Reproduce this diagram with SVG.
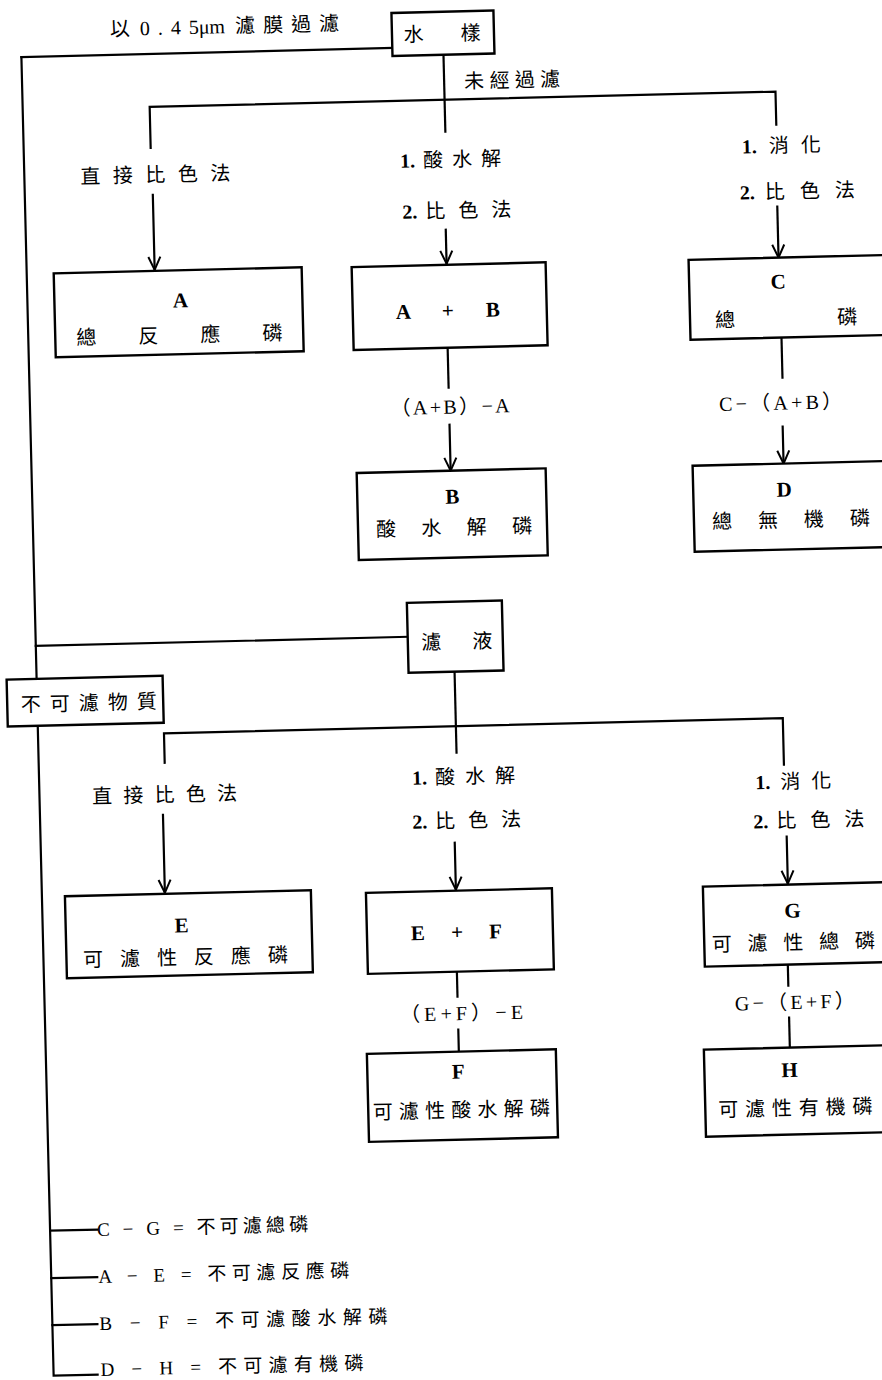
<svg xmlns="http://www.w3.org/2000/svg" width="882" height="1380" viewBox="0 0 882 1380">
<defs>
<style>
.ln{fill:none;stroke:#000;stroke-width:2.2;stroke-linecap:square}
.bx{fill:#fff;stroke:#000;stroke-width:2.4}
.t{font-family:"Liberation Serif","Noto Sans CJK TC",serif;font-size:20px;fill:#000;text-anchor:middle;dominant-baseline:central}
.s{text-anchor:start}
.b{font-weight:bold;font-size:21px}
.n{font-weight:bold}
.lg{font-size:19px}
</style>
<marker id="ah" viewBox="-14 -8 16 16" refX="0" refY="0" markerWidth="16" markerHeight="16" markerUnits="userSpaceOnUse" orient="auto">
<path d="M-13,-6 L0,0 L-13,6" fill="none" stroke="#000" stroke-width="2"/>
</marker>
</defs>
<rect width="882" height="1380" fill="#fff"/>
<g id="diagram" transform="rotate(-1.4 441 690)">
<g id="connectors">
<path class="ln" d="M37,47 H408"/>
<path class="ln" d="M37,47 V1366 H81"/>
<path class="ln" d="M459,55 V132"/>
<path class="ln" d="M164,141 V100 H790 V133"/>
<path class="ln" d="M165,188 V263" marker-end="url(#ah)"/>
<path class="ln" d="M457,230 V264" marker-end="url(#ah)"/>
<path class="ln" d="M789,215 V266" marker-end="url(#ah)"/>
<path class="ln" d="M456,348 V388"/>
<path class="ln" d="M456,425 V471" marker-end="url(#ah)"/>
<path class="ln" d="M790,346 V386"/>
<path class="ln" d="M789,435 V472" marker-end="url(#ah)"/>
<path class="ln" d="M37,636 H409"/>
<path class="ln" d="M455,672 V753"/>
<path class="ln" d="M163,756 V726.5 H782 V773"/>
<path class="ln" d="M160,808 V886" marker-end="url(#ah)"/>
<path class="ln" d="M451,843 V890" marker-end="url(#ah)"/>
<path class="ln" d="M783,845 V892" marker-end="url(#ah)"/>
<path class="ln" d="M450,972 V997"/>
<path class="ln" d="M450,1030 V1052"/>
<path class="ln" d="M781,973 V994"/>
<path class="ln" d="M781,1026 V1056"/>
<path class="ln" d="M37,1221 H84"/>
<path class="ln" d="M37,1268.5 H83"/>
<path class="ln" d="M37,1315.5 H82"/>
</g>
<g id="labels">
<text class="t s" x="126" y="21" font-size="19">以<tspan dx="10" letter-spacing="8">0.4</tspan>5μm<tspan dx="10" letter-spacing="8">濾膜過濾</tspan></text>
<text class="t" x="527" y="82" textLength="96" lengthAdjust="spacing">未經過濾</text>
<text class="t" x="168" y="168" textLength="150" lengthAdjust="spacing">直接比色法</text>
<text class="t s" x="413" y="160"><tspan class="n">1.</tspan><tspan dx="8" letter-spacing="9">酸水解</tspan></text>
<text class="t s" x="414" y="211"><tspan class="n">2.</tspan><tspan dx="8" letter-spacing="13">比色法</tspan></text>
<text class="t s" x="755" y="154"><tspan class="n">1.</tspan><tspan dx="12" letter-spacing="12">消化</tspan></text>
<text class="t s" x="752" y="200"><tspan class="n">2.</tspan><tspan dx="10" letter-spacing="15">比色法</tspan></text>
<text class="t" x="457" y="407" textLength="119" lengthAdjust="spacing">（A+B）−A</text>
<text class="t" x="787.5" y="411" textLength="123" lengthAdjust="spacing">C−（A+B）</text>
<text class="t" x="162" y="788" textLength="145" lengthAdjust="spacing">直接比色法</text>
<text class="t s" x="410" y="777"><tspan class="n">1.</tspan><tspan dx="8" letter-spacing="10">酸水解</tspan></text>
<text class="t s" x="409" y="821"><tspan class="n">2.</tspan><tspan dx="8" letter-spacing="13">比色法</tspan></text>
<text class="t s" x="753" y="790"><tspan class="n">1.</tspan><tspan dx="10" letter-spacing="11">消化</tspan></text>
<text class="t s" x="750" y="829"><tspan class="n">2.</tspan><tspan dx="8" letter-spacing="14">比色法</tspan></text>
<text class="t" x="453.6" y="1013.5" textLength="123" lengthAdjust="spacing">（E+F）−E</text>
<text class="t" x="787" y="1010.5" textLength="120" lengthAdjust="spacing">G−（E+F）</text>
<text class="t s lg" x="84" y="1221" textLength="211" lengthAdjust="spacing">C − G = 不可濾總磷</text>
<text class="t s lg" x="84" y="1268" textLength="251" lengthAdjust="spacing">A − E = 不可濾反應磷</text>
<text class="t s lg" x="84" y="1315" textLength="288" lengthAdjust="spacing">B − F = 不可濾酸水解磷</text>
<text class="t s lg" x="84" y="1361" textLength="263" lengthAdjust="spacing">D − H = 不可濾有機磷</text>
</g>
<g id="node-sample">
<rect class="bx" x="408" y="12" width="102" height="43"/>
<text class="t" x="458" y="34" textLength="77" lengthAdjust="spacing">水樣</text>
</g>
<g id="node-A">
<rect class="bx" x="64" y="264" width="248" height="84"/>
<text class="t b" x="190" y="294">A</text>
<text class="t" x="188" y="329" textLength="206" lengthAdjust="spacing">總反應磷</text>
</g>
<g id="node-AB">
<rect class="bx" x="362" y="265" width="194" height="83"/>
<text class="t b" x="457" y="311" textLength="104" lengthAdjust="spacing">A + B</text>
</g>
<g id="node-B">
<rect class="bx" x="362" y="471" width="189" height="87"/>
<text class="t b" x="457" y="497">B</text>
<text class="t" x="458" y="528" textLength="156" lengthAdjust="spacing">酸水解磷</text>
</g>
<g id="node-C">
<rect class="bx" x="699" y="266" width="210" height="80"/>
<text class="t b" x="788" y="290">C</text>
<text class="t" x="795" y="327" textLength="142" lengthAdjust="spacing">總磷</text>
</g>
<g id="node-D">
<rect class="bx" x="698" y="472" width="210" height="86"/>
<text class="t b" x="789" y="498">D</text>
<text class="t" x="795" y="528.5" textLength="158" lengthAdjust="spacing">總無機磷</text>
</g>
<g id="node-filtrate">
<rect class="bx" x="409" y="602" width="95" height="70"/>
<text class="t" x="458" y="642" textLength="71" lengthAdjust="spacing">濾液</text>
</g>
<g id="node-nonfilterable">
<rect class="bx" x="7" y="669" width="156" height="47"/>
<text class="t" x="88.7" y="694.4" textLength="136" lengthAdjust="spacing">不可濾物質</text>
</g>
<g id="node-E">
<rect class="bx" x="60" y="887" width="246" height="82"/>
<text class="t b" x="176" y="919">E</text>
<text class="t" x="179" y="951" textLength="205" lengthAdjust="spacing">可濾性反應磷</text>
</g>
<g id="node-EF">
<rect class="bx" x="361" y="891" width="186" height="81"/>
<text class="t b" x="450.5" y="932.5" textLength="91" lengthAdjust="spacing">E + F</text>
</g>
<g id="node-F">
<rect class="bx" x="358" y="1052" width="189" height="88"/>
<text class="t b" x="449" y="1072">F</text>
<text class="t" x="451" y="1110.5" textLength="177" lengthAdjust="spacing">可濾性酸水解磷</text>
</g>
<g id="node-G">
<rect class="bx" x="698" y="893" width="210" height="80"/>
<text class="t b" x="787" y="919">G</text>
<text class="t" x="787" y="951" textLength="163" lengthAdjust="spacing">可濾性總磷</text>
</g>
<g id="node-H">
<rect class="bx" x="695" y="1056" width="213" height="87"/>
<text class="t b" x="780" y="1078.5">H</text>
<text class="t" x="785" y="1116.5" textLength="154" lengthAdjust="spacing">可濾性有機磷</text>
</g>
</g>
</svg>
